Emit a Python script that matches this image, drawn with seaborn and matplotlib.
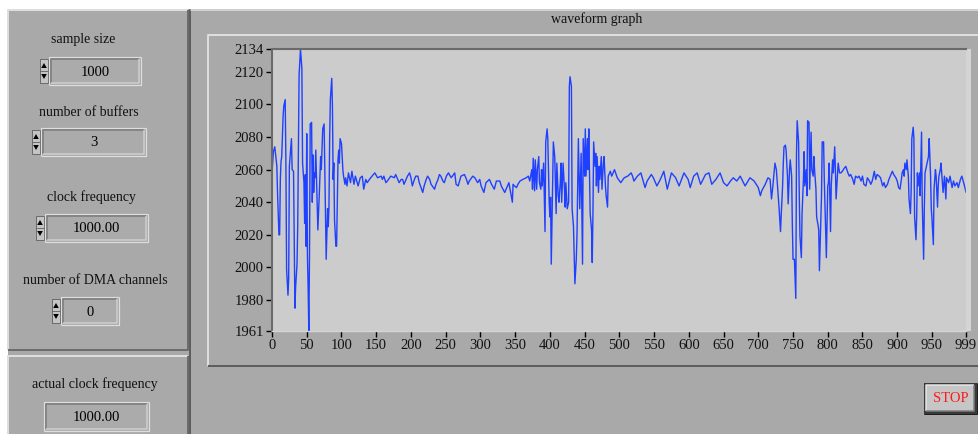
import matplotlib
matplotlib.use("Agg")
import numpy as np
import matplotlib.pyplot as plt
import seaborn as sns
from matplotlib.patches import Rectangle, Polygon

W, H = 979, 434

# waveform samples (sample index, amplitude), by section
burst1_idx = [0, 2, 4, 6, 7, 8, 10, 11, 12, 13,
              14, 16, 17, 19, 20, 21, 23, 24, 25, 28,
              29, 31, 33, 34, 36, 37, 38, 39, 41, 43,
              44, 46, 47, 48, 49, 50, 51, 52, 53, 54,
              55, 57, 58, 59, 60, 61, 62, 63, 66, 68,
              70, 71, 73, 75, 77, 78, 80, 81, 82, 83,
              84, 86, 87, 88, 89, 90, 92, 93, 95, 96,
              97, 98, 100, 102, 103, 105, 106, 108, 110]
burst1_val = [2058, 2071, 2074, 2066, 2062, 2045, 2020, 2020, 2054, 2065,
              2068, 2093, 2099, 2103, 2064, 1999, 1983, 1993, 2062, 2079,
              2060, 2059, 1975, 1988, 2002, 2025, 2074, 2118, 2134, 2122,
              2064, 2052, 2027, 2057, 2013, 2082, 2007, 1988, 1961, 2008,
              2088, 2089, 2040, 2069, 2046, 2058, 2055, 2072, 2023, 2044,
              2068, 2060, 2085, 2088, 2031, 2005, 2036, 2025, 2037, 2079,
              2103, 2116, 2099, 2054, 2064, 2029, 2013, 2013, 2066, 2072,
              2064, 2079, 2076, 2060, 2056, 2051, 2055, 2050, 2058]

quiet1_idx = [113, 115, 118, 120, 124, 127, 130, 132, 135, 137,
              142, 148, 152, 157, 159, 161, 164, 166, 171, 176,
              178, 181, 183, 186, 188, 190, 195, 198, 200, 202,
              205, 207, 210, 212, 217, 219, 222, 224, 227, 229,
              234, 236, 239, 241, 243, 246, 248, 251, 254, 258,
              263, 265, 268, 272, 277, 280, 282, 284, 289, 292,
              296, 299, 301, 305, 308, 313, 316, 320, 323, 328,
              330, 335, 339, 341, 344, 346, 347, 349, 352, 354,
              357, 361, 366, 369, 371]
quiet1_val = [2052, 2059, 2051, 2056, 2050, 2055, 2056, 2048, 2054, 2052,
              2055, 2058, 2055, 2056, 2054, 2056, 2052, 2053, 2056, 2055,
              2057, 2054, 2052, 2054, 2054, 2051, 2056, 2058, 2055, 2050,
              2054, 2056, 2056, 2052, 2046, 2050, 2054, 2056, 2054, 2051,
              2048, 2051, 2054, 2057, 2056, 2053, 2052, 2056, 2058, 2055,
              2058, 2051, 2050, 2056, 2057, 2054, 2051, 2053, 2056, 2055,
              2052, 2054, 2050, 2046, 2052, 2054, 2051, 2048, 2053, 2053,
              2050, 2046, 2050, 2052, 2045, 2040, 2051, 2050, 2049, 2051,
              2053, 2054, 2055, 2056, 2053]

burst2_idx = [374, 375, 376, 378, 379, 381, 382, 384, 385, 387,
              388, 389, 391, 393, 394, 396, 397, 399, 400, 401,
              402, 404, 405, 407, 409, 410, 412, 413, 415, 416,
              417, 419, 421, 422, 423, 425, 427, 428, 429, 431,
              432, 434, 436, 438, 439, 441, 443, 445, 447, 448,
              450, 451, 452, 454, 455, 456, 458, 460, 461, 462,
              463, 465, 466, 467, 468, 470, 471, 472, 474, 475,
              477, 478, 480, 481, 483, 484, 487, 489, 493, 497,
              502]
burst2_val = [2060, 2048, 2067, 2047, 2066, 2048, 2060, 2068, 2052, 2048,
              2060, 2050, 2064, 2022, 2077, 2085, 2079, 2040, 2031, 2043,
              2002, 2053, 2077, 2068, 2033, 2064, 2044, 2040, 2052, 2064,
              2040, 2064, 2048, 2037, 2052, 2036, 2040, 2111, 2117, 2111,
              2036, 2025, 1990, 2005, 2019, 2079, 2036, 2070, 2002, 2079,
              2056, 2085, 2056, 2079, 2060, 2085, 2033, 2023, 2003, 2033,
              2077, 2062, 2070, 2050, 2068, 2046, 2062, 2054, 2068, 2048,
              2064, 2068, 2050, 2044, 2037, 2056, 2059, 2056, 2060, 2055,
              2052]

quiet2_idx = [507, 512, 517, 519, 521, 526, 531, 537, 540, 546,
              549, 554, 559, 564, 569, 575, 581, 586, 593, 599,
              602, 607, 612, 617, 624, 629, 633, 639, 645, 650,
              655, 660, 664, 669, 674, 681, 688, 694, 700, 703]
quiet2_val = [2055, 2056, 2058, 2056, 2053, 2056, 2058, 2049, 2053, 2057,
              2055, 2050, 2054, 2059, 2048, 2058, 2055, 2050, 2058, 2054,
              2049, 2056, 2058, 2051, 2057, 2058, 2051, 2054, 2058, 2052,
              2050, 2053, 2055, 2053, 2056, 2050, 2055, 2053, 2049, 2044]

burst3_idx = [705, 710, 714, 717, 719, 721, 724, 726, 729, 730,
              732, 733, 735, 736, 737, 739, 740, 742, 743, 745,
              746, 748, 749, 750, 752, 754, 755, 756, 758, 759,
              760, 762, 763, 765, 766, 767, 769, 770, 771, 773,
              774, 776, 777, 779, 780, 781, 783, 784, 786, 787,
              788, 790, 791, 792, 794, 795, 797, 798, 800, 801,
              802, 804, 805, 807, 808, 810, 811, 812, 814, 815,
              817, 819, 821, 824, 826, 829, 831, 833, 836]
burst3_val = [2047, 2051, 2055, 2054, 2042, 2050, 2064, 2060, 2042, 2036,
              2022, 2032, 2050, 2064, 2074, 2075, 2072, 2056, 2039, 2060,
              2066, 2056, 2027, 2005, 2005, 1981, 2070, 2090, 2077, 2044,
              2019, 2006, 2033, 2054, 2071, 2050, 2060, 2044, 2090, 2089,
              2048, 2083, 2060, 2056, 2068, 2060, 2048, 2031, 2026, 2023,
              1998, 2029, 2044, 2077, 2077, 2054, 2022, 2006, 2050, 2052,
              2064, 2022, 2050, 2066, 2058, 2074, 2060, 2042, 2056, 2064,
              2058, 2058, 2059, 2061, 2062, 2058, 2056, 2057, 2054]

quiet3_idx = [838, 840, 843, 845, 848, 850, 852, 855, 857, 860,
              862, 864, 867, 869, 871, 874, 876, 879, 881, 883,
              886, 888, 890, 893, 895, 898, 900, 902, 904, 906,
              907, 909, 910]
quiet3_val = [2051, 2056, 2055, 2056, 2053, 2056, 2051, 2050, 2055, 2053,
              2051, 2053, 2059, 2054, 2057, 2056, 2055, 2050, 2052, 2049,
              2051, 2054, 2056, 2059, 2057, 2055, 2053, 2049, 2048, 2054,
              2058, 2060, 2056]

burst4_idx = [911, 913, 914, 916, 917, 919, 920, 921, 923, 924,
              925, 927, 928, 929, 930, 932, 933, 935, 936, 938,
              939, 940, 942, 943, 945, 946, 948, 949, 950, 952,
              953, 955, 956, 958, 959, 960, 962, 963, 965, 966,
              968, 970, 971, 974, 976, 979, 981, 983, 986, 988,
              991, 993, 995, 998, 999]
burst4_val = [2064, 2060, 2066, 2056, 2042, 2033, 2046, 2079, 2086, 2079,
              2031, 2017, 2031, 2058, 2050, 2058, 2044, 2083, 2040, 2005,
              2036, 2058, 2062, 2064, 2068, 2079, 2056, 2036, 2030, 2014,
              2048, 2060, 2056, 2037, 2050, 2056, 2060, 2064, 2052, 2046,
              2056, 2042, 2055, 2052, 2056, 2049, 2053, 2050, 2052, 2049,
              2054, 2056, 2053, 2048, 2046]

y_ticks = [1961, 1980, 2000, 2020, 2040, 2060, 2080, 2100, 2120, 2134]
x_ticks = [0, 50, 100, 150, 200, 250, 300, 350, 400, 450, 500,
           550, 600, 650, 700, 750, 800, 850, 900, 950, 999]

control_labels = ["sample size", "number of buffers", "clock frequency",
                  "number of DMA channels"]
control_values = ["1000", "3", "1000.00", "0"]
indicator_label = "actual clock frequency"
indicator_value = "1000.00"
graph_title = "waveform graph"

sample_idx = (burst1_idx + quiet1_idx + burst2_idx + quiet2_idx
              + burst3_idx + quiet3_idx + burst4_idx)
amplitude = (burst1_val + quiet1_val + burst2_val + quiet2_val
             + burst3_val + quiet3_val + burst4_val)

sns.set_theme(style="white")
plt.rcParams['font.family'] = ['Liberation Serif', 'DejaVu Serif']

PANEL = '#a9a9a9'
LIGHT = '#dedede'
DARK = '#6c6c6c'
PX = 0.72  # one pixel in points


def bevel(ax, x0, y0, x1, y1, tl, br, fill=None, lw=1.5):
    if fill is not None:
        ax.add_patch(Rectangle((x0, y0), x1 - x0, y1 - y0, fc=fill, ec='none'))
    ax.plot([x0, x0, x1], [y1, y0, y0], color=tl, lw=lw * PX,
            solid_capstyle='butt')
    ax.plot([x0, x1, x1], [y1, y1, y0], color=br, lw=lw * PX,
            solid_capstyle='butt')


def field(ax, x0, y0, x1, y1, text):
    bevel(ax, x0 - 1, y0 - 1, x1 + 1, y1 + 1, LIGHT, LIGHT, lw=1.2)
    bevel(ax, x0 + 1, y0 + 1, x1 - 1, y1 - 1, '#7a7a7a', '#d0d0d0',
          fill='#ababab', lw=1.5)
    ax.text((x0 + x1) / 2, (y0 + y1) / 2 + 1, text, ha='center', va='center',
            fontsize=10.5, color='black')


def spinner(ax, x0, y0, x1, y1):
    ym = (y0 + y1) / 2
    ax.add_patch(Rectangle((x0, y0), x1 - x0, y1 - y0, fc='#c4c4c4',
                           ec='#5a5a5a', lw=0.8 * PX))
    ax.plot([x0, x1], [ym, ym], color='#5a5a5a', lw=0.8 * PX)
    cx = (x0 + x1) / 2
    ax.add_patch(Polygon([[cx - 2.8, ym - 3], [cx + 2.8, ym - 3], [cx, ym - 8]],
                         closed=True, fc='black', ec='none'))
    ax.add_patch(Polygon([[cx - 2.8, ym + 3], [cx + 2.8, ym + 3], [cx, ym + 8]],
                         closed=True, fc='black', ec='none'))


fig = plt.figure(figsize=(W / 100, H / 100), dpi=100, facecolor='white')

bg = fig.add_axes([0, 0, 1, 1])
bg.set_xlim(0, W)
bg.set_ylim(H, 0)
bg.axis('off')

# panel surfaces
bg.add_patch(Rectangle((8, 9), W - 8, H - 9, fc=PANEL, ec='none'))
bevel(bg, 8, 10, 188, 350, LIGHT, DARK, lw=2)
bevel(bg, 8, 356, 188, 440, LIGHT, DARK, lw=2)
bg.plot([190, 190], [10, H], color='#5e5e5e', lw=2 * PX)
bg.plot([191, W], [10, 10], color=LIGHT, lw=1.5 * PX)
bevel(bg, 208, 35, 985, 366, LIGHT, '#5e5e5e', lw=2)
bg.text(597, 19, graph_title, ha='center', va='center', fontsize=10,
        color='#111111')

# controls on the left
label_pos = [(83, 40), (89, 112), (92, 197), (95, 281)]
field_boxes = [(50, 58, 140, 84), (42, 129, 145, 155),
               (46, 215, 147, 241), (62, 298, 118, 324)]
for lab, val, (lx, ly), (fx0, fy0, fx1, fy1) in zip(
        control_labels, control_values, label_pos, field_boxes):
    bg.text(lx, ly, lab, ha='center', va='center', fontsize=10,
            color='#111111')
    spinner(bg, fx0 - 10, fy0 + 1, fx0 - 2, fy1 - 1)
    field(bg, fx0, fy0, fx1, fy1, val)

bg.text(95, 384, indicator_label, ha='center', va='center', fontsize=10,
        color='#111111')
field(bg, 45, 403, 148, 430, indicator_value)

# STOP button
bevel(bg, 924, 383, 977, 414, '#3a3a3a', '#1e1e1e', fill='#3a3a3a', lw=1)
bevel(bg, 926, 385, 974, 411, '#e6e6e6', '#808080', fill='#c6c6c6', lw=1.5)
bg.text(951, 398, "STOP", ha='center', va='center', fontsize=10.5,
        color='#ff1a1a')

# plot background strip to the right of the last sample
bg.add_patch(Rectangle((966, 49), 5, 282, fc='#d4d4d4', ec='none'))

# waveform graph
ax = fig.add_axes([272 / W, 1 - 331 / H, (966 - 272) / W, (331 - 49) / H])
ax.set_facecolor('#cccccc')
sns.lineplot(x=sample_idx, y=amplitude, ax=ax, color='#1f40ff',
             linewidth=1.0, sort=False)
ax.set_xlim(0, 999)
ax.set_ylim(1961, 2134)
ax.set_xticks(x_ticks)
ax.set_xticklabels([str(t) for t in x_ticks])
ax.set_yticks(y_ticks)
ax.set_yticklabels([str(t) for t in y_ticks])
ax.tick_params(axis='both', direction='out', length=4.5, width=1,
               colors='black', labelsize=10.5, pad=1.5, labelcolor='#111111')
ax.tick_params(axis='x', bottom=True, left=False)
ax.tick_params(axis='y', left=True)
ax.set_xlabel('')
ax.set_ylabel('')
ax.grid(False)
for side in ['left', 'top']:
    ax.spines[side].set_color('#6a6a6a')
    ax.spines[side].set_linewidth(1.5)
for side in ['bottom', 'right']:
    ax.spines[side].set_color('#d4d4d4')
    ax.spines[side].set_linewidth(1.0)

fig.savefig('out.png', dpi=100, facecolor='white')
